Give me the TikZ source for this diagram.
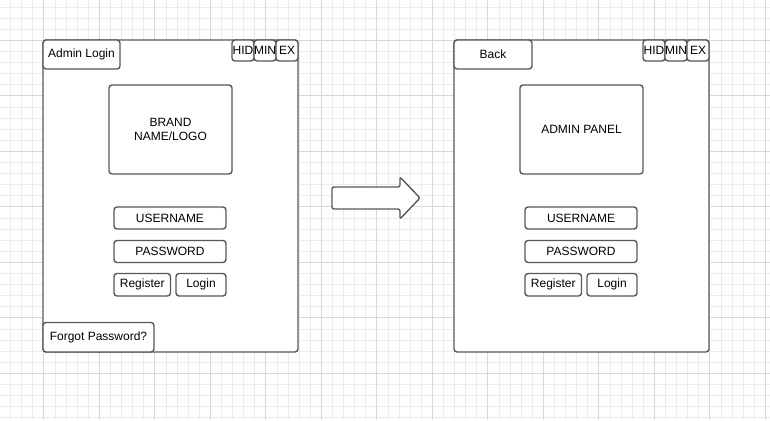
\documentclass[tikz,border=0pt]{standalone}
\usepackage{fontspec}
\setmainfont{Liberation Sans}
\definecolor{edge}{RGB}{88,88,88}
\definecolor{minorgrid}{RGB}{236,236,236}
\definecolor{majorgrid}{RGB}{216,216,216}

\begin{document}
\begin{tikzpicture}[x=1pt, y=-1pt,
  box/.style={draw=edge, line width=1.4pt, rounded corners=3pt, fill=white,
    inner sep=0pt, align=center, font=\fontsize{12}{14.5}\selectfont},
  tinybtn/.style={box, minimum width=22pt, minimum height=21pt},
  field/.style={box, minimum width=112pt, minimum height=22pt},
  tab/.style={box, minimum width=77pt, minimum height=29pt}]
\useasboundingbox (0,0) rectangle (770,420);

% grid
\foreach \k in {0,...,68}
  \draw[minorgrid, line width=0.8pt] (10.5+11.1*\k,0) -- (10.5+11.1*\k,420);
\foreach \k in {0,...,37}
  \draw[minorgrid, line width=0.8pt] (0,7+11.1*\k) -- (770,7+11.1*\k);
\foreach \k in {0,...,13}
  \draw[majorgrid, line width=0.8pt] (43.8+55.5*\k,0) -- (43.8+55.5*\k,420);
\foreach \k in {0,...,6}
  \draw[majorgrid, line width=0.8pt] (0,40.3+55.5*\k) -- (770,40.3+55.5*\k);

% login window
\node[box, minimum width=255pt, minimum height=312pt] (win1) at (170.5,196) {};
\node[tab] (title1) at (81.5,54.5) {Admin Login};
\node[tinybtn] (hid1) at (243,50.5) {\makebox[0pt]{HID}};
\node[tinybtn] (min1) at (265,50.5) {\makebox[0pt]{MIN}};
\node[tinybtn] (ex1) at (287,50.5) {\makebox[0pt]{EX}};
\node[box, minimum width=123pt, minimum height=89pt] (logo) at (170.5,129.5) {BRAND\\NAME/LOGO};
\node[field] (user1) at (170,218) {USERNAME};
\node[field] (pass1) at (170,251.5) {PASSWORD};
\node[box, minimum width=56.5pt, minimum height=22.5pt] (reg1) at (142.25,284.75) {Register};
\node[box, minimum width=50pt, minimum height=22.5pt] (login1) at (201,284.75) {Login};
\node[box, minimum width=111pt, minimum height=29.5pt] (forgot) at (98.5,337.25) {Forgot Password?};

% arrow
\draw[draw=edge, line width=1.4pt, fill=white, rounded corners=2pt]
  (332,187) -- (400,187) -- (400,177) -- (420,198) -- (400,219) -- (400,209) -- (332,209) -- cycle;

% admin window
\node[box, minimum width=255pt, minimum height=312pt] (win2) at (581.5,196) {};
\node[tab, minimum width=78pt] (title2) at (493,54.5) {Back};
\node[tinybtn] (hid2) at (654,50.5) {\makebox[0pt]{HID}};
\node[tinybtn] (min2) at (676,50.5) {\makebox[0pt]{MIN}};
\node[tinybtn] (ex2) at (698,50.5) {\makebox[0pt]{EX}};
\node[box, minimum width=123pt, minimum height=89pt] (panel) at (581.5,129.5) {ADMIN PANEL};
\node[field] (user2) at (581,218) {USERNAME};
\node[field] (pass2) at (581,251.5) {PASSWORD};
\node[box, minimum width=56.5pt, minimum height=22.5pt] (reg2) at (553.25,284.75) {Register};
\node[box, minimum width=50pt, minimum height=22.5pt] (login2) at (612,284.75) {Login};
\end{tikzpicture}
\end{document}
